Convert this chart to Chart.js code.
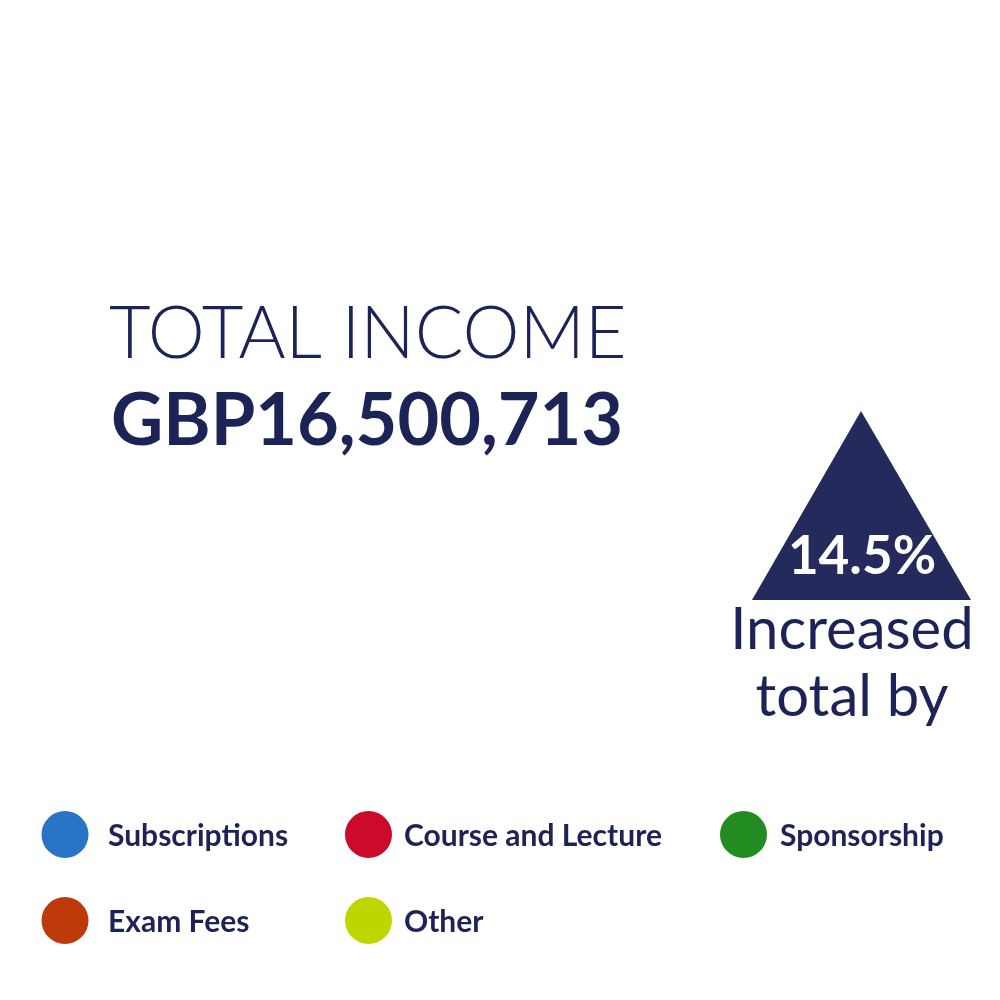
<!DOCTYPE html>
<html>
<head>
<meta charset="utf-8">
<script src="https://cdn.jsdelivr.net/npm/chart.js@4.4.1/dist/chart.umd.min.js"></script>
<style>
  html, body { margin: 0; padding: 0; background: #fff; }
  #wrap { position: relative; width: 1000px; height: 1000px; }
</style>
</head>
<body>
<div id="wrap"><canvas id="income-chart" width="1000" height="1000"></canvas></div>
<script>
// Income categories (legend) and their colours
const categories = ['Subscriptions', 'Course and Lecture', 'Sponsorship', 'Exam Fees', 'Other'];
const categoryColors = ['#2a74c6', '#cc0a2c', '#228b22', '#bf3a0a', '#bed600'];
// no slices are visible in the picture, so every share reads as zero
const incomeShares = [0, 0, 0, 0, 0];

const titleText = 'TOTAL INCOME';
const totalText = 'GBP16,500,713';
const changeText = '14.5%';
const changeCaption = ['Increased', 'total by'];

const navy = '#1c2356';

// draws the headline text, the up triangle and a grid legend
const infographic = {
  id: 'infographic',
  afterDraw(chart) {
    const c = chart.ctx;
    c.save();
    c.textBaseline = 'alphabetic';

    c.fillStyle = navy;
    c.textAlign = 'left';
    c.font = '300 72px Lato';
    c.fillText(titleText, 109, 358);
    c.font = 'bold 72px Lato';
    c.fillText(totalText, 111, 445);

    // triangle
    c.fillStyle = '#242b5c';
    c.beginPath();
    c.moveTo(861, 411);
    c.lineTo(971, 600);
    c.lineTo(752, 600);
    c.closePath();
    c.fill();

    c.textAlign = 'center';
    c.fillStyle = '#fff';
    c.font = 'bold 53px Lato';
    c.fillText(changeText, 862, 574);

    c.fillStyle = navy;
    c.font = '58px Lato';
    c.fillText(changeCaption[0], 852, 649);
    c.fillText(changeCaption[1], 852, 716);

    // legend laid out in columns
    const items = chart.options.plugins.legend.labels.generateLabels(chart);
    const dotX = [65, 368.5, 743.5];
    const textX = [108, 404, 780];
    const rowY = [834.5, 920.5];
    c.textAlign = 'left';
    c.font = 'bold 30px Lato';
    items.forEach((it, i) => {
      const col = i % 3;
      const y = rowY[Math.floor(i / 3)];
      c.fillStyle = it.fillStyle;
      c.beginPath();
      c.arc(dotX[col], y, 23.5, 0, Math.PI * 2);
      c.fill();
      c.fillStyle = navy;
      c.fillText(it.text, textX[col], y + 11);
    });
    c.restore();
  }
};

const ctx = document.getElementById('income-chart').getContext('2d');
new Chart(ctx, {
  type: 'doughnut',
  data: {
    labels: categories,
    datasets: [{
      data: incomeShares,
      backgroundColor: categoryColors,
      borderWidth: 0
    }]
  },
  options: {
    responsive: false,
    animation: false,
    cutout: '70%',
    layout: { padding: { left: 60, right: 360, top: 120, bottom: 330 } },
    plugins: {
      legend: { display: false },
      tooltip: { enabled: false }
    }
  },
  plugins: [infographic]
});
</script>
</body>
</html>
